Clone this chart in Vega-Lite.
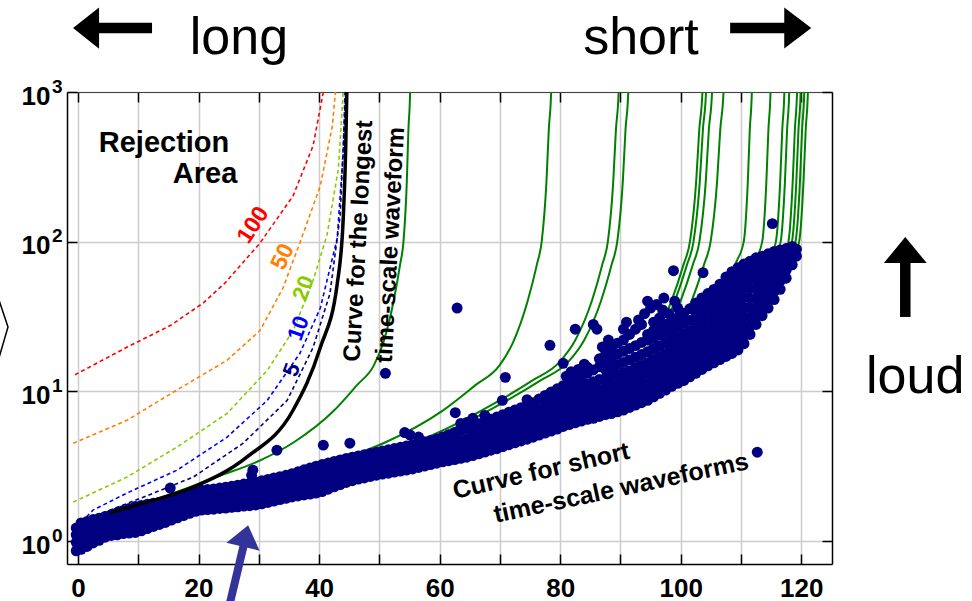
{
  "$schema": "https://vega.github.io/schema/vega-lite/v6.json",
  "width": 765,
  "height": 472,
  "autosize": {"type": "none"},
  "padding": {"left": 67, "top": 92, "right": 140, "bottom": 37},
  "background": "white",
  "config": {
    "view": {"stroke": null},
    "axis": {"labelFont": "Liberation Sans", "labelFontWeight": "bold", "labelColor": "#000", "labelFontSize": 26, "title": null, "labelFlush": false, "labelOverlap": false}
  },
  "datasets": {
    "gray": [
      {"o": 1, "x": -3, "lo": 1}, {"o": 2, "x": 5.3, "lo": 1}, {"o": 3, "x": 5.3, "lo": 1.54}, {"o": 4, "x": 10.8, "lo": 1.79}, {"o": 5, "x": 19.1, "lo": 2.29}, {"o": 6, "x": 28, "lo": 3.63}, {"o": 7, "x": 35.7, "lo": 7.5}, {"o": 8, "x": 40.2, "lo": 19.6}, {"o": 9, "x": 43, "lo": 52}, {"o": 10, "x": 44, "lo": 142}, {"o": 11, "x": 44.4, "lo": 400}, {"o": 12, "x": 44.6, "lo": 1000}
    ],
    "black": [
      {"x": 5.3, "y": 1.54}, {"x": 10.8, "y": 1.79}, {"x": 19.1, "y": 2.29}, {"x": 28, "y": 3.63}, {"x": 35.7, "y": 7.5}, {"x": 40.2, "y": 19.6}, {"x": 43, "y": 52}, {"x": 44, "y": 142}, {"x": 44.4, "y": 400}, {"x": 44.6, "y": 1000}, {"x": 44.7, "y": 1500}
    ],
    "dashed": [
      {"c": "100", "x": -0.5, "y": 12.9}, {"c": "100", "x": 8.1, "y": 19.7}, {"c": "100", "x": 15.3, "y": 27.5}, {"c": "100", "x": 20.8, "y": 39}, {"c": "100", "x": 24.4, "y": 53}, {"c": "100", "x": 30.2, "y": 98}, {"c": "100", "x": 35.7, "y": 203}, {"c": "100", "x": 39, "y": 437}, {"c": "100", "x": 40.7, "y": 1000}, {"c": "100", "x": 41.1, "y": 1500},
      {"c": "50", "x": -0.8, "y": 4.5}, {"c": "50", "x": 8.1, "y": 6.4}, {"c": "50", "x": 16.4, "y": 10.2}, {"c": "50", "x": 24.7, "y": 16.1}, {"c": "50", "x": 30.2, "y": 25.5}, {"c": "50", "x": 34, "y": 49}, {"c": "50", "x": 36.8, "y": 98}, {"c": "50", "x": 40.2, "y": 236}, {"c": "50", "x": 42.2, "y": 593}, {"c": "50", "x": 42.7, "y": 1000}, {"c": "50", "x": 42.9, "y": 1500},
      {"c": "20", "x": -0.8, "y": 1.82}, {"c": "20", "x": 8.1, "y": 2.67}, {"c": "20", "x": 16.4, "y": 4.24}, {"c": "20", "x": 24.7, "y": 7.1}, {"c": "20", "x": 31.4, "y": 13.8}, {"c": "20", "x": 35.7, "y": 25.5}, {"c": "20", "x": 39, "y": 55}, {"c": "20", "x": 41.3, "y": 110}, {"c": "20", "x": 43.2, "y": 307}, {"c": "20", "x": 44, "y": 1000}, {"c": "20", "x": 44.2, "y": 1500},
      {"c": "10", "x": -0.2, "y": 1.24}, {"c": "10", "x": 2.5, "y": 1.61}, {"c": "10", "x": 8.1, "y": 2.09}, {"c": "10", "x": 16.4, "y": 2.97}, {"c": "10", "x": 24.7, "y": 4.93}, {"c": "10", "x": 31.4, "y": 8.7}, {"c": "10", "x": 36.8, "y": 17.9}, {"c": "10", "x": 40.2, "y": 36}, {"c": "10", "x": 43, "y": 105}, {"c": "10", "x": 44, "y": 392}, {"c": "10", "x": 44.3, "y": 1000}, {"c": "10", "x": 44.4, "y": 1500},
      {"c": "5", "x": 4.1, "y": 1.54}, {"c": "5", "x": 10.8, "y": 1.96}, {"c": "5", "x": 19.1, "y": 2.67}, {"c": "5", "x": 27.4, "y": 4.5}, {"c": "5", "x": 34.7, "y": 8.7}, {"c": "5", "x": 39, "y": 19.6}, {"c": "5", "x": 41.8, "y": 45}, {"c": "5", "x": 43.5, "y": 150}, {"c": "5", "x": 44.4, "y": 1000}, {"c": "5", "x": 44.5, "y": 1500}
    ],
    "green": [
      {"c": "A", "x": 5.51, "y": 1.51}, {"c": "A", "x": 13.78, "y": 1.95}, {"c": "A", "x": 23.14, "y": 2.69}, {"c": "A", "x": 30.31, "y": 3.47}, {"c": "A", "x": 35.82, "y": 4.57}, {"c": "A", "x": 42.43, "y": 7.41}, {"c": "A", "x": 46.28, "y": 11.0}, {"c": "A", "x": 49.04, "y": 14.8}, {"c": "A", "x": 50.69, "y": 21.4}, {"c": "A", "x": 52.35, "y": 39.8}, {"c": "A", "x": 53.45, "y": 70.8}, {"c": "A", "x": 54.0, "y": 100}, {"c": "A", "x": 54.55, "y": 251}, {"c": "A", "x": 54.82, "y": 562}, {"c": "A", "x": 55.1, "y": 1000}, {"c": "A", "x": 55.27, "y": 3162},
      {"c": "C", "x": 7.85, "y": 1.51}, {"c": "C", "x": 19.63, "y": 1.95}, {"c": "C", "x": 32.97, "y": 2.69}, {"c": "C", "x": 43.18, "y": 3.47}, {"c": "C", "x": 51.03, "y": 4.57}, {"c": "C", "x": 60.45, "y": 7.41}, {"c": "C", "x": 65.94, "y": 11.0}, {"c": "C", "x": 69.87, "y": 14.8}, {"c": "C", "x": 72.22, "y": 21.4}, {"c": "C", "x": 74.58, "y": 39.8}, {"c": "C", "x": 76.15, "y": 70.8}, {"c": "C", "x": 76.93, "y": 100}, {"c": "C", "x": 77.72, "y": 251}, {"c": "C", "x": 78.11, "y": 562}, {"c": "C", "x": 78.5, "y": 1000}, {"c": "C", "x": 78.74, "y": 3162},
      {"c": "B1", "x": 8.97, "y": 1.51}, {"c": "B1", "x": 22.43, "y": 1.95}, {"c": "B1", "x": 37.67, "y": 2.75}, {"c": "B1", "x": 49.34, "y": 3.75}, {"c": "B1", "x": 58.31, "y": 5.0}, {"c": "B1", "x": 69.07, "y": 8.3}, {"c": "B1", "x": 75.35, "y": 11.8}, {"c": "B1", "x": 79.83, "y": 15.6}, {"c": "B1", "x": 82.52, "y": 22}, {"c": "B1", "x": 85.22, "y": 39.8}, {"c": "B1", "x": 87.01, "y": 70.8}, {"c": "B1", "x": 87.91, "y": 100}, {"c": "B1", "x": 88.8, "y": 251}, {"c": "B1", "x": 89.25, "y": 562}, {"c": "B1", "x": 89.7, "y": 1000}, {"c": "B1", "x": 89.97, "y": 3162},
      {"c": "B2", "x": 9.13, "y": 1.51}, {"c": "B2", "x": 22.83, "y": 1.95}, {"c": "B2", "x": 38.35, "y": 2.75}, {"c": "B2", "x": 50.22, "y": 3.75}, {"c": "B2", "x": 59.35, "y": 5.0}, {"c": "B2", "x": 70.3, "y": 8.3}, {"c": "B2", "x": 76.69, "y": 11.8}, {"c": "B2", "x": 81.26, "y": 15.6}, {"c": "B2", "x": 84.0, "y": 22}, {"c": "B2", "x": 86.74, "y": 39.8}, {"c": "B2", "x": 88.56, "y": 70.8}, {"c": "B2", "x": 89.47, "y": 100}, {"c": "B2", "x": 90.39, "y": 251}, {"c": "B2", "x": 90.84, "y": 562}, {"c": "B2", "x": 91.3, "y": 1000}, {"c": "B2", "x": 91.57, "y": 3162},
      {"c": "D1", "x": 10.36, "y": 1.51}, {"c": "D1", "x": 25.9, "y": 1.95}, {"c": "D1", "x": 43.51, "y": 2.85}, {"c": "D1", "x": 56.98, "y": 3.8}, {"c": "D1", "x": 67.34, "y": 5.2}, {"c": "D1", "x": 79.77, "y": 8.2}, {"c": "D1", "x": 87.02, "y": 11.5}, {"c": "D1", "x": 92.2, "y": 15.2}, {"c": "D1", "x": 95.31, "y": 21.4}, {"c": "D1", "x": 98.42, "y": 39.8}, {"c": "D1", "x": 100.49, "y": 70.8}, {"c": "D1", "x": 101.53, "y": 100}, {"c": "D1", "x": 102.56, "y": 251}, {"c": "D1", "x": 103.08, "y": 562}, {"c": "D1", "x": 103.6, "y": 1000}, {"c": "D1", "x": 103.91, "y": 3162},
      {"c": "D2", "x": 10.42, "y": 1.51}, {"c": "D2", "x": 26.05, "y": 1.95}, {"c": "D2", "x": 43.76, "y": 2.85}, {"c": "D2", "x": 57.31, "y": 3.8}, {"c": "D2", "x": 67.73, "y": 5.2}, {"c": "D2", "x": 80.23, "y": 8.2}, {"c": "D2", "x": 87.53, "y": 11.5}, {"c": "D2", "x": 92.74, "y": 15.2}, {"c": "D2", "x": 95.86, "y": 21.4}, {"c": "D2", "x": 98.99, "y": 39.8}, {"c": "D2", "x": 101.07, "y": 70.8}, {"c": "D2", "x": 102.12, "y": 100}, {"c": "D2", "x": 103.16, "y": 251}, {"c": "D2", "x": 103.68, "y": 562}, {"c": "D2", "x": 104.2, "y": 1000}, {"c": "D2", "x": 104.51, "y": 3162},
      {"c": "D3", "x": 10.52, "y": 1.51}, {"c": "D3", "x": 26.3, "y": 1.95}, {"c": "D3", "x": 44.18, "y": 2.85}, {"c": "D3", "x": 57.86, "y": 3.8}, {"c": "D3", "x": 68.38, "y": 5.2}, {"c": "D3", "x": 81.0, "y": 8.2}, {"c": "D3", "x": 88.37, "y": 11.5}, {"c": "D3", "x": 93.63, "y": 15.2}, {"c": "D3", "x": 96.78, "y": 21.4}, {"c": "D3", "x": 99.94, "y": 39.8}, {"c": "D3", "x": 102.04, "y": 70.8}, {"c": "D3", "x": 103.1, "y": 100}, {"c": "D3", "x": 104.15, "y": 251}, {"c": "D3", "x": 104.67, "y": 562}, {"c": "D3", "x": 105.2, "y": 1000}, {"c": "D3", "x": 105.52, "y": 3162},
      {"c": "D4", "x": 10.71, "y": 1.51}, {"c": "D4", "x": 26.78, "y": 1.95}, {"c": "D4", "x": 44.98, "y": 2.85}, {"c": "D4", "x": 58.91, "y": 3.8}, {"c": "D4", "x": 69.62, "y": 5.3}, {"c": "D4", "x": 82.47, "y": 8.6}, {"c": "D4", "x": 89.96, "y": 12.5}, {"c": "D4", "x": 95.32, "y": 17}, {"c": "D4", "x": 98.53, "y": 23}, {"c": "D4", "x": 101.75, "y": 39.8}, {"c": "D4", "x": 103.89, "y": 70.8}, {"c": "D4", "x": 104.96, "y": 100}, {"c": "D4", "x": 106.03, "y": 251}, {"c": "D4", "x": 106.56, "y": 562}, {"c": "D4", "x": 107.1, "y": 1000}, {"c": "D4", "x": 107.42, "y": 3162},
      {"c": "E1", "x": 11.18, "y": 1.45}, {"c": "E1", "x": 27.95, "y": 2.05}, {"c": "E1", "x": 46.96, "y": 3.2}, {"c": "E1", "x": 61.49, "y": 4.8}, {"c": "E1", "x": 72.67, "y": 7.0}, {"c": "E1", "x": 86.09, "y": 12}, {"c": "E1", "x": 93.91, "y": 18}, {"c": "E1", "x": 99.5, "y": 26}, {"c": "E1", "x": 102.86, "y": 35}, {"c": "E1", "x": 106.77, "y": 50}, {"c": "E1", "x": 109.34, "y": 75}, {"c": "E1", "x": 110.46, "y": 100}, {"c": "E1", "x": 111.13, "y": 251}, {"c": "E1", "x": 111.46, "y": 562}, {"c": "E1", "x": 111.8, "y": 1000}, {"c": "E1", "x": 112.02, "y": 3162},
      {"c": "E2", "x": 11.49, "y": 1.45}, {"c": "E2", "x": 28.73, "y": 2.05}, {"c": "E2", "x": 48.26, "y": 3.2}, {"c": "E2", "x": 63.2, "y": 4.8}, {"c": "E2", "x": 74.69, "y": 7.0}, {"c": "E2", "x": 88.47, "y": 12}, {"c": "E2", "x": 96.52, "y": 18}, {"c": "E2", "x": 102.26, "y": 26}, {"c": "E2", "x": 105.71, "y": 35}, {"c": "E2", "x": 109.73, "y": 50}, {"c": "E2", "x": 112.37, "y": 75}, {"c": "E2", "x": 113.52, "y": 100}, {"c": "E2", "x": 114.21, "y": 251}, {"c": "E2", "x": 114.55, "y": 562}, {"c": "E2", "x": 114.9, "y": 1000}, {"c": "E2", "x": 115.13, "y": 3162},
      {"c": "E3", "x": 11.72, "y": 1.45}, {"c": "E3", "x": 29.3, "y": 2.05}, {"c": "E3", "x": 49.22, "y": 3.2}, {"c": "E3", "x": 64.46, "y": 4.8}, {"c": "E3", "x": 76.18, "y": 7.0}, {"c": "E3", "x": 90.24, "y": 12}, {"c": "E3", "x": 98.45, "y": 18}, {"c": "E3", "x": 104.31, "y": 26}, {"c": "E3", "x": 107.82, "y": 35}, {"c": "E3", "x": 111.93, "y": 50}, {"c": "E3", "x": 114.62, "y": 75}, {"c": "E3", "x": 115.79, "y": 100}, {"c": "E3", "x": 116.5, "y": 251}, {"c": "E3", "x": 116.85, "y": 562}, {"c": "E3", "x": 117.2, "y": 1000}, {"c": "E3", "x": 117.43, "y": 3162},
      {"c": "E4", "x": 11.8, "y": 1.45}, {"c": "E4", "x": 29.5, "y": 2.05}, {"c": "E4", "x": 49.56, "y": 3.2}, {"c": "E4", "x": 64.9, "y": 4.8}, {"c": "E4", "x": 76.7, "y": 7.0}, {"c": "E4", "x": 90.86, "y": 12}, {"c": "E4", "x": 99.12, "y": 18}, {"c": "E4", "x": 105.02, "y": 26}, {"c": "E4", "x": 108.56, "y": 35}, {"c": "E4", "x": 112.69, "y": 50}, {"c": "E4", "x": 115.4, "y": 75}, {"c": "E4", "x": 116.58, "y": 100}, {"c": "E4", "x": 117.29, "y": 251}, {"c": "E4", "x": 117.65, "y": 562}, {"c": "E4", "x": 118.0, "y": 1000}, {"c": "E4", "x": 118.24, "y": 3162},
      {"c": "E5", "x": 11.93, "y": 1.45}, {"c": "E5", "x": 29.83, "y": 2.05}, {"c": "E5", "x": 50.11, "y": 3.2}, {"c": "E5", "x": 65.62, "y": 4.8}, {"c": "E5", "x": 77.55, "y": 7.0}, {"c": "E5", "x": 91.86, "y": 12}, {"c": "E5", "x": 100.21, "y": 18}, {"c": "E5", "x": 106.18, "y": 26}, {"c": "E5", "x": 109.76, "y": 35}, {"c": "E5", "x": 113.93, "y": 50}, {"c": "E5", "x": 116.68, "y": 75}, {"c": "E5", "x": 117.87, "y": 100}, {"c": "E5", "x": 118.58, "y": 251}, {"c": "E5", "x": 118.94, "y": 562}, {"c": "E5", "x": 119.3, "y": 1000}, {"c": "E5", "x": 119.54, "y": 3162},
      {"c": "E6", "x": 11.99, "y": 1.45}, {"c": "E6", "x": 29.98, "y": 2.05}, {"c": "E6", "x": 50.36, "y": 3.2}, {"c": "E6", "x": 65.95, "y": 4.8}, {"c": "E6", "x": 77.94, "y": 7.0}, {"c": "E6", "x": 92.32, "y": 12}, {"c": "E6", "x": 100.72, "y": 18}, {"c": "E6", "x": 106.71, "y": 26}, {"c": "E6", "x": 110.31, "y": 35}, {"c": "E6", "x": 114.5, "y": 50}, {"c": "E6", "x": 117.26, "y": 75}, {"c": "E6", "x": 118.46, "y": 100}, {"c": "E6", "x": 119.18, "y": 251}, {"c": "E6", "x": 119.54, "y": 562}, {"c": "E6", "x": 119.9, "y": 1000}, {"c": "E6", "x": 120.14, "y": 3162},
      {"c": "E7", "x": 12.05, "y": 1.45}, {"c": "E7", "x": 30.13, "y": 2.05}, {"c": "E7", "x": 50.61, "y": 3.2}, {"c": "E7", "x": 66.28, "y": 4.8}, {"c": "E7", "x": 78.33, "y": 7.0}, {"c": "E7", "x": 92.79, "y": 12}, {"c": "E7", "x": 101.22, "y": 18}, {"c": "E7", "x": 107.25, "y": 26}, {"c": "E7", "x": 110.86, "y": 35}, {"c": "E7", "x": 115.08, "y": 50}, {"c": "E7", "x": 117.85, "y": 75}, {"c": "E7", "x": 119.05, "y": 100}, {"c": "E7", "x": 119.78, "y": 251}, {"c": "E7", "x": 120.14, "y": 562}, {"c": "E7", "x": 120.5, "y": 1000}, {"c": "E7", "x": 120.74, "y": 3162},
      {"c": "E8", "x": 12.11, "y": 1.45}, {"c": "E8", "x": 30.28, "y": 2.05}, {"c": "E8", "x": 50.86, "y": 3.2}, {"c": "E8", "x": 66.61, "y": 4.8}, {"c": "E8", "x": 78.72, "y": 7.0}, {"c": "E8", "x": 93.25, "y": 12}, {"c": "E8", "x": 101.72, "y": 18}, {"c": "E8", "x": 107.78, "y": 26}, {"c": "E8", "x": 111.41, "y": 35}, {"c": "E8", "x": 115.65, "y": 50}, {"c": "E8", "x": 118.44, "y": 75}, {"c": "E8", "x": 119.65, "y": 100}, {"c": "E8", "x": 120.37, "y": 251}, {"c": "E8", "x": 120.74, "y": 562}, {"c": "E8", "x": 121.1, "y": 1000}, {"c": "E8", "x": 121.34, "y": 3162}
    ],
    "scatter": [
      {"x":-0.3,"y":0.86},{"x":-0.3,"y":0.98},{"x":-0.3,"y":1.1},{"x":-0.3,"y":1.22},
      {"x":0.5,"y":0.88},{"x":0.5,"y":1.02},{"x":0.5,"y":1.17},{"x":0.5,"y":1.32},
      {"x":1.5,"y":0.92},{"x":1.5,"y":1.05},{"x":1.5,"y":1.2},{"x":1.5,"y":1.35},
      {"x":2.5,"y":0.97},{"x":2.5,"y":1.1},{"x":2.5,"y":1.24},{"x":2.5,"y":1.39},
      {"x":3.5,"y":1.01},{"x":3.5,"y":1.14},{"x":3.5,"y":1.28},{"x":3.5,"y":1.42},
      {"x":4.5,"y":1.06},{"x":4.5,"y":1.19},{"x":4.5,"y":1.32},{"x":4.5,"y":1.46},
      {"x":5.5,"y":1.09},{"x":5.5,"y":1.22},{"x":5.5,"y":1.36},{"x":5.5,"y":1.5},
      {"x":6.5,"y":1.1},{"x":6.5,"y":1.24},{"x":6.5,"y":1.4},{"x":6.5,"y":1.55},
      {"x":7.5,"y":1.12},{"x":7.5,"y":1.27},{"x":7.5,"y":1.43},{"x":7.5,"y":1.6},
      {"x":8.5,"y":1.13},{"x":8.5,"y":1.29},{"x":8.5,"y":1.46},{"x":8.5,"y":1.65},
      {"x":9.5,"y":1.14},{"x":9.5,"y":1.31},{"x":9.5,"y":1.5},{"x":9.5,"y":1.7},
      {"x":10.5,"y":1.17},{"x":10.5,"y":1.34},{"x":10.5,"y":1.53},{"x":10.5,"y":1.73},
      {"x":11.5,"y":1.21},{"x":11.5,"y":1.38},{"x":11.5,"y":1.56},{"x":11.5,"y":1.76},
      {"x":12.5,"y":1.25},{"x":12.5,"y":1.42},{"x":12.5,"y":1.6},{"x":12.5,"y":1.79},
      {"x":13.5,"y":1.29},{"x":13.5,"y":1.45},{"x":13.5,"y":1.63},{"x":13.5,"y":1.81},
      {"x":14.5,"y":1.33},{"x":14.5,"y":1.49},{"x":14.5,"y":1.66},{"x":14.5,"y":1.84},
      {"x":15.5,"y":1.38},{"x":15.5,"y":1.54},{"x":15.5,"y":1.7},{"x":15.5,"y":1.88},{"x":15.3,"y":2.26},
      {"x":16.5,"y":1.43},{"x":16.5,"y":1.59},{"x":16.5,"y":1.76},{"x":16.5,"y":1.94},
      {"x":17.5,"y":1.48},{"x":17.5,"y":1.64},{"x":17.5,"y":1.82},{"x":17.5,"y":2.01},
      {"x":18.5,"y":1.53},{"x":18.5,"y":1.7},{"x":18.5,"y":1.88},{"x":18.5,"y":2.07},
      {"x":19.5,"y":1.58},{"x":19.5,"y":1.75},{"x":19.5,"y":1.94},{"x":19.5,"y":2.14},
      {"x":20.5,"y":1.61},{"x":20.5,"y":1.78},{"x":20.5,"y":1.97},{"x":20.5,"y":2.18},
      {"x":21.5,"y":1.62},{"x":21.5,"y":1.8},{"x":21.5,"y":2.0},{"x":21.5,"y":2.21},
      {"x":22.5,"y":1.63},{"x":22.5,"y":1.82},{"x":22.5,"y":2.02},{"x":22.5,"y":2.23},
      {"x":23.5,"y":1.65},{"x":23.5,"y":1.84},{"x":23.5,"y":2.05},{"x":23.5,"y":2.26},
      {"x":24.5,"y":1.66},{"x":24.5,"y":1.86},{"x":24.5,"y":2.07},{"x":24.5,"y":2.29},
      {"x":25.5,"y":1.68},{"x":25.5,"y":1.88},{"x":25.5,"y":2.09},{"x":25.5,"y":2.32},
      {"x":26.5,"y":1.69},{"x":26.5,"y":1.9},{"x":26.5,"y":2.12},{"x":26.5,"y":2.36},
      {"x":27.5,"y":1.71},{"x":27.5,"y":1.92},{"x":27.5,"y":2.15},{"x":27.5,"y":2.4},
      {"x":28.5,"y":1.72},{"x":28.5,"y":1.94},{"x":28.5,"y":2.18},{"x":28.5,"y":2.44},{"x":28.8,"y":2.75},{"x":29,"y":2.97},
      {"x":29.5,"y":1.74},{"x":29.5,"y":1.97},{"x":29.5,"y":2.21},{"x":29.5,"y":2.48},
      {"x":30.5,"y":1.77},{"x":30.5,"y":2.0},{"x":30.5,"y":2.25},{"x":30.5,"y":2.53},
      {"x":31.5,"y":1.81},{"x":31.5,"y":2.05},{"x":31.5,"y":2.3},{"x":31.5,"y":2.58},
      {"x":32.5,"y":1.85},{"x":32.5,"y":2.1},{"x":32.5,"y":2.36},{"x":32.5,"y":2.64},{"x":33,"y":4.04},
      {"x":33.5,"y":1.89},{"x":33.5,"y":2.14},{"x":33.5,"y":2.41},{"x":33.5,"y":2.69},
      {"x":34.5,"y":1.93},{"x":34.5,"y":2.18},{"x":34.5,"y":2.46},{"x":34.5,"y":2.75},
      {"x":35.5,"y":1.97},{"x":35.5,"y":2.23},{"x":35.5,"y":2.52},{"x":35.5,"y":2.82},
      {"x":36.5,"y":2.0},{"x":36.5,"y":2.28},{"x":36.5,"y":2.58},{"x":36.5,"y":2.9},
      {"x":37.5,"y":2.03},{"x":37.5,"y":2.33},{"x":37.5,"y":2.65},{"x":37.5,"y":2.99},
      {"x":38.5,"y":2.06},{"x":38.5,"y":2.37},{"x":38.5,"y":2.71},{"x":38.5,"y":3.07},
      {"x":39.5,"y":2.09},{"x":39.5,"y":2.42},{"x":39.5,"y":2.78},{"x":39.5,"y":3.16},
      {"x":40.5,"y":2.14},{"x":40.5,"y":2.47},{"x":40.5,"y":2.84},{"x":40.5,"y":3.24},{"x":40.7,"y":4.37},
      {"x":41.5,"y":2.22},{"x":41.5,"y":2.56},{"x":41.5,"y":2.92},{"x":41.5,"y":3.32},
      {"x":42.5,"y":2.3},{"x":42.5,"y":2.64},{"x":42.5,"y":3.0},{"x":42.5,"y":3.4},
      {"x":43.5,"y":2.38},{"x":43.5,"y":2.72},{"x":43.5,"y":3.08},{"x":43.5,"y":3.48},
      {"x":44.5,"y":2.46},{"x":44.5,"y":2.8},{"x":44.5,"y":3.16},{"x":44.5,"y":3.56},{"x":45.1,"y":4.5},
      {"x":45.5,"y":2.53},{"x":45.5,"y":2.87},{"x":45.5,"y":3.23},{"x":45.5,"y":3.63},
      {"x":46.5,"y":2.59},{"x":46.5,"y":2.94},{"x":46.5,"y":3.3},{"x":46.5,"y":3.7},
      {"x":47.5,"y":2.64},{"x":47.5,"y":3.0},{"x":47.5,"y":3.37},{"x":47.5,"y":3.77},
      {"x":48.5,"y":2.7},{"x":48.5,"y":3.06},{"x":48.5,"y":3.44},{"x":48.5,"y":3.84},
      {"x":49.5,"y":2.75},{"x":49.5,"y":3.12},{"x":49.5,"y":3.51},{"x":49.5,"y":3.92},
      {"x":50.5,"y":2.8},{"x":50.5,"y":3.17},{"x":50.5,"y":3.57},{"x":50.5,"y":3.99},{"x":51,"y":13.2},
      {"x":51.5,"y":2.84},{"x":51.5,"y":3.22},{"x":51.5,"y":3.63},{"x":51.5,"y":4.07},
      {"x":52.5,"y":2.89},{"x":52.5,"y":3.28},{"x":52.5,"y":3.7},{"x":52.5,"y":4.15},
      {"x":53.5,"y":2.93},{"x":53.5,"y":3.33},{"x":53.5,"y":3.76},{"x":53.5,"y":4.23},
      {"x":54.5,"y":2.98},{"x":54.5,"y":3.39},{"x":54.5,"y":3.83},{"x":54.5,"y":4.31},{"x":54.2,"y":5.3},
      {"x":55.5,"y":3.03},{"x":55.5,"y":3.45},{"x":55.5,"y":3.9},{"x":55.5,"y":4.4},{"x":55.1,"y":5.1},
      {"x":56.5,"y":3.1},{"x":56.5,"y":3.53},{"x":56.5,"y":3.99},{"x":56.5,"y":4.5},{"x":56.5,"y":4.95},
      {"x":57.5,"y":3.17},{"x":57.5,"y":3.61},{"x":57.5,"y":4.08},{"x":57.5,"y":4.6},
      {"x":58.5,"y":3.24},{"x":58.5,"y":3.69},{"x":58.5,"y":4.17},{"x":58.5,"y":4.7},
      {"x":59.5,"y":3.31},{"x":59.5,"y":3.77},{"x":59.5,"y":4.26},{"x":59.5,"y":4.8},
      {"x":60.5,"y":3.38},{"x":60.5,"y":3.85},{"x":60.5,"y":4.36},{"x":60.5,"y":4.95},
      {"x":61.5,"y":3.44},{"x":61.5,"y":3.93},{"x":61.5,"y":4.47},{"x":61.5,"y":5.13},
      {"x":62.5,"y":3.5},{"x":62.5,"y":4.0},{"x":62.5,"y":4.58},{"x":62.5,"y":5.31},{"x":62.6,"y":7.2},{"x":62.9,"y":36},
      {"x":63.5,"y":3.57},{"x":63.5,"y":4.09},{"x":63.5,"y":4.69},{"x":63.5,"y":5.49},{"x":63.5,"y":6.1},
      {"x":64.5,"y":3.63},{"x":64.5,"y":4.17},{"x":64.5,"y":4.8},{"x":64.5,"y":5.66},{"x":64.5,"y":6.2},
      {"x":65.5,"y":3.72},{"x":65.5,"y":4.17},{"x":65.5,"y":4.67},{"x":65.5,"y":5.23},{"x":65.5,"y":5.86},{"x":65.5,"y":6.6},
      {"x":66.5,"y":3.82},{"x":66.5,"y":4.28},{"x":66.5,"y":4.8},{"x":66.5,"y":5.4},{"x":66.5,"y":6.08},
      {"x":67.5,"y":3.93},{"x":67.5,"y":4.4},{"x":67.5,"y":4.95},{"x":67.5,"y":5.58},{"x":67.5,"y":6.3},{"x":67.5,"y":6.9},
      {"x":68.5,"y":4.04},{"x":68.5,"y":4.53},{"x":68.5,"y":5.1},{"x":68.5,"y":5.76},{"x":68.5,"y":6.52},
      {"x":69.5,"y":4.14},{"x":69.5,"y":4.65},{"x":69.5,"y":5.24},{"x":69.5,"y":5.94},{"x":69.5,"y":6.74},
      {"x":70.5,"y":4.27},{"x":70.5,"y":4.8},{"x":70.5,"y":5.4},{"x":70.5,"y":6.15},{"x":70.5,"y":6.99},{"x":70.4,"y":8.7},{"x":70.9,"y":12.4},
      {"x":71.5,"y":4.4},{"x":71.5,"y":4.95},{"x":71.5,"y":5.6},{"x":71.5,"y":6.35},{"x":71.5,"y":7.25},
      {"x":72.5,"y":4.53},{"x":72.5,"y":5.1},{"x":72.5,"y":5.78},{"x":72.5,"y":6.58},{"x":72.5,"y":7.52},
      {"x":73.5,"y":4.66},{"x":73.5,"y":5.25},{"x":73.5,"y":5.95},{"x":73.5,"y":6.8},{"x":73.5,"y":7.78},
      {"x":74.5,"y":4.79},{"x":74.5,"y":5.4},{"x":74.5,"y":6.12},{"x":74.5,"y":7.0},{"x":74.5,"y":8.05},{"x":74.5,"y":8.8},
      {"x":75.5,"y":4.94},{"x":75.5,"y":5.58},{"x":75.5,"y":6.35},{"x":75.5,"y":7.3},{"x":75.5,"y":8.4},
      {"x":76.5,"y":5.1},{"x":76.5,"y":5.75},{"x":76.5,"y":6.55},{"x":76.5,"y":7.55},{"x":76.5,"y":8.9},
      {"x":77.5,"y":5.26},{"x":77.5,"y":5.93},{"x":77.5,"y":6.75},{"x":77.5,"y":7.7},{"x":77.5,"y":8.6},{"x":77.5,"y":9.4},
      {"x":78.5,"y":5.43},{"x":78.5,"y":6.1},{"x":78.5,"y":6.95},{"x":78.5,"y":7.9},{"x":78.5,"y":8.9},{"x":78.5,"y":9.9},{"x":78.3,"y":20.3},
      {"x":79.5,"y":5.59},{"x":79.5,"y":6.3},{"x":79.5,"y":7.15},{"x":79.5,"y":8.15},{"x":79.5,"y":9.2},{"x":79.5,"y":10.4},{"x":80.5,"y":15.4},
      {"x":80.5,"y":5.83},{"x":80.5,"y":6.55},{"x":80.5,"y":7.4},{"x":80.5,"y":8.4},{"x":80.5,"y":9.6},{"x":80.5,"y":10.9},{"x":81,"y":12.6},
      {"x":81.5,"y":5.99},{"x":81.5,"y":6.75},{"x":81.5,"y":7.65},{"x":81.5,"y":8.7},{"x":81.5,"y":10.0},{"x":81.5,"y":11.5},{"x":81.8,"y":13.5},
      {"x":82.5,"y":6.16},{"x":82.5,"y":6.95},{"x":82.5,"y":7.9},{"x":82.5,"y":9.0},{"x":82.5,"y":10.4},{"x":82.5,"y":12.0},{"x":82.5,"y":26},
      {"x":83.5,"y":6.33},{"x":83.5,"y":7.15},{"x":83.5,"y":8.15},{"x":83.5,"y":9.3},{"x":83.5,"y":10.8},{"x":83.5,"y":12.6},{"x":83,"y":14},
      {"x":84.5,"y":6.5},{"x":84.5,"y":7.35},{"x":84.5,"y":8.4},{"x":84.5,"y":9.65},{"x":84.5,"y":11.2},{"x":84.5,"y":13.2},{"x":84.5,"y":14.5},{"x":84,"y":15.2},
      {"x":85.5,"y":6.6},{"x":85.5,"y":7.5},{"x":85.5,"y":8.6},{"x":85.5,"y":9.9},{"x":85.5,"y":11.6},{"x":85.5,"y":13.9},{"x":86.1,"y":26},{"x":85.5,"y":28},
      {"x":86.5,"y":6.8},{"x":86.5,"y":7.7},{"x":86.5,"y":8.85},{"x":86.5,"y":10.2},{"x":86.5,"y":12.0},{"x":86.5,"y":14.6},{"x":86.5,"y":16.5},
      {"x":87.5,"y":7.0},{"x":87.5,"y":7.95},{"x":87.5,"y":9.1},{"x":87.5,"y":10.5},{"x":87.5,"y":12.2},{"x":87.5,"y":14.0},{"x":87.5,"y":15.8},{"x":87.5,"y":17.5},{"x":87,"y":19.8},
      {"x":88.5,"y":7.1},{"x":88.5,"y":8.1},{"x":88.5,"y":9.3},{"x":88.5,"y":10.8},{"x":88.5,"y":12.6},{"x":88.5,"y":14.6},{"x":88.5,"y":16.8},{"x":88.5,"y":19.5},{"x":88,"y":22},
      {"x":89.5,"y":7.3},{"x":89.5,"y":8.3},{"x":89.5,"y":9.5},{"x":89.5,"y":11.0},{"x":89.5,"y":12.9},{"x":89.5,"y":15.1},{"x":89.5,"y":17.8},{"x":89.5,"y":21},
      {"x":90.5,"y":7.5},{"x":90.5,"y":8.5},{"x":90.5,"y":9.8},{"x":90.5,"y":11.4},{"x":90.5,"y":13.3},{"x":90.5,"y":15.6},{"x":90.5,"y":18.5},{"x":90.5,"y":22},{"x":90.5,"y":26},{"x":91,"y":29},
      {"x":91.5,"y":7.8},{"x":91.5,"y":8.8},{"x":91.5,"y":10.1},{"x":91.5,"y":11.7},{"x":91.5,"y":13.7},{"x":91.5,"y":16.2},{"x":91.5,"y":19.3},{"x":91.5,"y":24},
      {"x":92.5,"y":8.1},{"x":92.5,"y":9.1},{"x":92.5,"y":10.5},{"x":92.5,"y":12.2},{"x":92.5,"y":14.3},{"x":92.5,"y":16.9},{"x":92.5,"y":20.2},{"x":92.5,"y":26},
      {"x":93.5,"y":8.4},{"x":93.5,"y":9.5},{"x":93.5,"y":10.9},{"x":93.5,"y":12.7},{"x":93.5,"y":14.9},{"x":93.5,"y":17.6},{"x":93.5,"y":21.2},{"x":93.5,"y":28},{"x":93,"y":30},
      {"x":94.5,"y":8.7},{"x":94.5,"y":9.8},{"x":94.5,"y":11.3},{"x":94.5,"y":13.2},{"x":94.5,"y":15.5},{"x":94.5,"y":18.4},{"x":94.5,"y":22},{"x":94.5,"y":24},{"x":94,"y":33},{"x":94.5,"y":40},
      {"x":95.5,"y":9.2},{"x":95.5,"y":10.4},{"x":95.5,"y":11.9},{"x":95.5,"y":13.9},{"x":95.5,"y":16.3},{"x":95.5,"y":19.3},{"x":95.5,"y":22.8},{"x":95.5,"y":25.5},{"x":95.5,"y":29},{"x":95,"y":36},
      {"x":96.5,"y":9.7},{"x":96.5,"y":10.9},{"x":96.5,"y":12.5},{"x":96.5,"y":14.6},{"x":96.5,"y":17.1},{"x":96.5,"y":20.2},{"x":96.5,"y":23.8},{"x":96.5,"y":26.8},{"x":96.5,"y":31},{"x":96,"y":38},
      {"x":97.5,"y":10.2},{"x":97.5,"y":11.5},{"x":97.5,"y":13.2},{"x":97.5,"y":15.3},{"x":97.5,"y":17.9},{"x":97.5,"y":21.1},{"x":97.5,"y":24.8},{"x":97.5,"y":28},{"x":97,"y":35},{"x":97.2,"y":42},
      {"x":98.5,"y":10.8},{"x":98.5,"y":12.1},{"x":98.5,"y":13.9},{"x":98.5,"y":16.1},{"x":98.5,"y":18.8},{"x":98.5,"y":22.1},{"x":98.5,"y":25.9},{"x":98.5,"y":29.5},{"x":98,"y":33},{"x":98.8,"y":64},
      {"x":99.5,"y":11.3},{"x":99.5,"y":12.7},{"x":99.5,"y":14.6},{"x":99.5,"y":16.9},{"x":99.5,"y":19.7},{"x":99.5,"y":23.1},{"x":99.5,"y":27.1},{"x":99.5,"y":31},{"x":99.5,"y":36},{"x":99,"y":40},
      {"x":100.5,"y":11.8},{"x":100.5,"y":13.3},{"x":100.5,"y":15.3},{"x":100.5,"y":17.7},{"x":100.5,"y":20.7},{"x":100.5,"y":24.2},{"x":100.5,"y":28.4},{"x":100.5,"y":33.3},
      {"x":101.5,"y":12.5},{"x":101.5,"y":14.1},{"x":101.5,"y":16.1},{"x":101.5,"y":18.6},{"x":101.5,"y":21.7},{"x":101.5,"y":25.4},{"x":101.5,"y":29.8},{"x":101.5,"y":35.6},
      {"x":102.5,"y":13.2},{"x":102.5,"y":14.9},{"x":102.5,"y":17.0},{"x":102.5,"y":19.6},{"x":102.5,"y":22.8},{"x":102.5,"y":26.7},{"x":102.5,"y":31.3},{"x":102.5,"y":36},{"x":102.5,"y":39},
      {"x":103.5,"y":14.0},{"x":103.5,"y":15.8},{"x":103.5,"y":18.0},{"x":103.5,"y":20.8},{"x":103.5,"y":24.2},{"x":103.5,"y":28.3},{"x":103.5,"y":33.1},{"x":103.5,"y":38},{"x":103.5,"y":42},{"x":103.7,"y":62},
      {"x":104.5,"y":14.8},{"x":104.5,"y":16.7},{"x":104.5,"y":19.0},{"x":104.5,"y":21.9},{"x":104.5,"y":25.5},{"x":104.5,"y":29.8},{"x":104.5,"y":34.9},{"x":104.5,"y":40},{"x":104.5,"y":45},
      {"x":105.5,"y":15.5},{"x":105.5,"y":17.5},{"x":105.5,"y":20.0},{"x":105.5,"y":23.1},{"x":105.5,"y":26.9},{"x":105.5,"y":31.5},{"x":105.5,"y":36.8},{"x":105.5,"y":42.5},{"x":105.5,"y":48},
      {"x":106.5,"y":16.3},{"x":106.5,"y":18.4},{"x":106.5,"y":21.1},{"x":106.5,"y":24.4},{"x":106.5,"y":28.4},{"x":106.5,"y":33.2},{"x":106.5,"y":38.8},{"x":106.5,"y":45},{"x":106.5,"y":52},
      {"x":107.5,"y":17.1},{"x":107.5,"y":19.3},{"x":107.5,"y":22.1},{"x":107.5,"y":25.6},{"x":107.5,"y":29.8},{"x":107.5,"y":34.9},{"x":107.5,"y":40.8},{"x":107.5,"y":47.5},{"x":107.5,"y":55},{"x":107.5,"y":58},
      {"x":108.5,"y":17.9},{"x":108.5,"y":20.3},{"x":108.5,"y":23.3},{"x":108.5,"y":27.0},{"x":108.5,"y":31.5},{"x":108.5,"y":36.8},{"x":108.5,"y":43},{"x":108.5,"y":50},{"x":108.5,"y":57},{"x":108.5,"y":63},
      {"x":109.5,"y":18.9},{"x":109.5,"y":21.4},{"x":109.5,"y":24.6},{"x":109.5,"y":28.6},{"x":109.5,"y":33.3},{"x":109.5,"y":38.9},{"x":109.5,"y":45.4},{"x":109.5,"y":52.6},{"x":109.5,"y":60},{"x":109.5,"y":67},
      {"x":110.5,"y":20.8},{"x":110.5,"y":23.6},{"x":110.5,"y":27.1},{"x":110.5,"y":31.4},{"x":110.5,"y":36.5},{"x":110.5,"y":42.6},{"x":110.5,"y":49.6},{"x":110.5,"y":57.4},{"x":110.5,"y":64},{"x":110.5,"y":71},
      {"x":111.5,"y":24},{"x":111.5,"y":27.2},{"x":111.5,"y":31.2},{"x":111.5,"y":36.1},{"x":111.5,"y":41.9},{"x":111.5,"y":48.7},{"x":111.5,"y":56.5},{"x":111.5,"y":64},{"x":111.5,"y":74},
      {"x":112.5,"y":28},{"x":112.5,"y":31.7},{"x":112.5,"y":36.3},{"x":112.5,"y":42},{"x":112.5,"y":48.5},{"x":112.5,"y":56},{"x":112.5,"y":64.5},{"x":112.5,"y":72},{"x":112.5,"y":78},{"x":112.7,"y":3.92},
      {"x":113.5,"y":32},{"x":113.5,"y":36.3},{"x":113.5,"y":41.5},{"x":113.5,"y":47.8},{"x":113.5,"y":55},{"x":113.5,"y":63},{"x":113.5,"y":71.5},{"x":113.5,"y":80},
      {"x":114.5,"y":36},{"x":114.5,"y":40.8},{"x":114.5,"y":46.6},{"x":114.5,"y":53.4},{"x":114.5,"y":61.2},{"x":114.5,"y":69.8},{"x":114.5,"y":78},{"x":114.5,"y":83},
      {"x":115.5,"y":41},{"x":115.5,"y":46.5},{"x":115.5,"y":53},{"x":115.5,"y":60.7},{"x":115.5,"y":69.3},{"x":115.5,"y":78.5},{"x":115.5,"y":86},{"x":115.2,"y":132},
      {"x":116.5,"y":48},{"x":116.5,"y":54.4},{"x":116.5,"y":62},{"x":116.5,"y":70.5},{"x":116.5,"y":79.5},{"x":116.5,"y":88},
      {"x":117.5,"y":57},{"x":117.5,"y":64.5},{"x":117.5,"y":73},{"x":117.5,"y":82},{"x":117.5,"y":90},
      {"x":118.5,"y":70},{"x":118.5,"y":79},{"x":118.5,"y":88},{"x":118.5,"y":93},
      {"x":119.2,"y":80},{"x":119.2,"y":89}
    ]
  },
  "resolve": {"axis": {"x": "independent", "y": "independent"}},
  "layer": [
    {
      "data": {"name": "gray"},
      "mark": {"type": "area", "color": "#e6e6e6", "clip": true},
      "encoding": {
        "x": {"field": "x", "type": "quantitative",
          "scale": {"domain": [-1.83, 125.1], "nice": false, "zero": false},
          "axis": {"orient": "bottom", "values": [0, 10, 20, 30, 40, 50, 60, 70, 80, 90, 100, 110, 120], "labelExpr": "datum.value % 20 == 0 ? datum.label : ''", "grid": true, "gridColor": "#cccccc", "gridWidth": 1.5, "domainColor": "#000", "domainWidth": 1.5, "tickColor": "#000", "tickWidth": 1.5, "tickSize": -10, "labelPadding": 21}},
        "y": {"field": "lo", "type": "quantitative",
          "scale": {"type": "log", "domain": [0.702, 1000], "nice": false},
          "axis": {"orient": "left", "values": [1, 10, 100, 1000], "labelExpr": "'10'", "grid": true, "gridColor": "#cccccc", "gridWidth": 1.5, "domainColor": "#000", "domainWidth": 1.5, "tickColor": "#000", "tickWidth": 1.5, "tickSize": -10, "labelPadding": 27, "labelOffset": 4, "labelBaseline": "middle"}},
        "y2": {"datum": 1000},
        "order": {"field": "o"}
      }
    },
    {
      "data": {"name": "dashed"},
      "mark": {"type": "line", "strokeWidth": 1.6, "strokeDash": [4, 3], "clip": true},
      "encoding": {
        "x": {"field": "x", "type": "quantitative", "axis": {"orient": "top", "values": [0, 10, 20, 30, 40, 50, 60, 70, 80, 90, 100, 110, 120], "labels": false, "grid": false, "domainColor": "#444", "domainWidth": 1, "tickColor": "#000", "tickWidth": 1.5, "tickSize": -10}},
        "y": {"field": "y", "type": "quantitative", "axis": {"orient": "right", "values": [1, 10, 100, 1000], "labels": false, "grid": false, "domainColor": "#000", "domainWidth": 1.5, "tickColor": "#000", "tickWidth": 1.5, "tickSize": -10}},
        "color": {"field": "c", "type": "nominal", "scale": {"domain": ["100", "50", "20", "10", "5"], "range": ["#ff0000", "#ff8000", "#88cc00", "#0000ff", "#000080"]}, "legend": null}
      }
    },
    {
      "data": {"name": "green"},
      "mark": {"type": "line", "strokeWidth": 2, "color": "#008000", "clip": true, "interpolate": "monotone"},
      "encoding": {
        "x": {"field": "x", "type": "quantitative", "axis": null},
        "y": {"field": "y", "type": "quantitative", "axis": {"orient": "left", "values": [1, 10, 100, 1000], "labelExpr": "datum.value < 5 ? '0' : datum.value < 50 ? '1' : datum.value < 500 ? '2' : '3'", "ticks": false, "domain": false, "grid": false, "labelPadding": 5, "labelOffset": -6, "labelFontSize": 19, "labelBaseline": "middle"}},
        "detail": {"field": "c", "type": "nominal"}
      }
    },
    {
      "data": {"name": "scatter"},
      "mark": {"type": "point", "filled": true, "shape": "circle", "size": 120, "color": "#000080", "opacity": 1},
      "encoding": {
        "x": {"field": "x", "type": "quantitative", "axis": null},
        "y": {"field": "y", "type": "quantitative", "axis": null}
      }
    },
    {
      "data": {"name": "black"},
      "mark": {"type": "line", "strokeWidth": 3.5, "color": "#000000", "clip": true, "interpolate": "monotone"},
      "encoding": {
        "x": {"field": "x", "type": "quantitative", "axis": null},
        "y": {"field": "y", "type": "quantitative", "axis": null}
      }
    },
    {
      "data": {"values": [{"label": "Rejection", "x": 14.27, "y": 399}, {"label": "Area", "x": 21.08, "y": 245}]},
      "mark": {"type": "text", "font": "Liberation Sans", "fontWeight": "bold", "fontSize": 29, "color": "#000", "align": "center", "baseline": "alphabetic"},
      "encoding": {"x": {"field": "x", "type": "quantitative", "axis": null}, "y": {"field": "y", "type": "quantitative", "axis": null}, "text": {"field": "label"}}
    },
    {
      "data": {"values": [{"label": "100", "x": 29.05, "y": 129}]},
      "mark": {"type": "text", "font": "Liberation Sans", "fontWeight": "bold", "fontSize": 23, "color": "#ff0000", "angle": -57, "align": "center", "baseline": "middle"},
      "encoding": {"x": {"field": "x", "type": "quantitative", "axis": null}, "y": {"field": "y", "type": "quantitative", "axis": null}, "text": {"field": "label"}}
    },
    {
      "data": {"values": [{"label": "50", "x": 33.97, "y": 79.3}]},
      "mark": {"type": "text", "font": "Liberation Sans", "fontWeight": "bold", "fontSize": 23, "color": "#ff8000", "angle": -65, "align": "center", "baseline": "middle"},
      "encoding": {"x": {"field": "x", "type": "quantitative", "axis": null}, "y": {"field": "y", "type": "quantitative", "axis": null}, "text": {"field": "label"}}
    },
    {
      "data": {"values": [{"label": "20", "x": 37.4, "y": 49}]},
      "mark": {"type": "text", "font": "Liberation Sans", "fontWeight": "bold", "fontSize": 22, "color": "#88cc00", "angle": -70, "align": "center", "baseline": "middle"},
      "encoding": {"x": {"field": "x", "type": "quantitative", "axis": null}, "y": {"field": "y", "type": "quantitative", "axis": null}, "text": {"field": "label"}}
    },
    {
      "data": {"values": [{"label": "10", "x": 36.57, "y": 26.4}]},
      "mark": {"type": "text", "font": "Liberation Sans", "fontWeight": "bold", "fontSize": 22, "color": "#0000ff", "angle": -70, "align": "center", "baseline": "middle"},
      "encoding": {"x": {"field": "x", "type": "quantitative", "axis": null}, "y": {"field": "y", "type": "quantitative", "axis": null}, "text": {"field": "label"}}
    },
    {
      "data": {"values": [{"label": "5", "x": 35.47, "y": 13.9}]},
      "mark": {"type": "text", "font": "Liberation Sans", "fontWeight": "bold", "fontSize": 22, "color": "#000080", "angle": -70, "align": "center", "baseline": "middle"},
      "encoding": {"x": {"field": "x", "type": "quantitative", "axis": null}, "y": {"field": "y", "type": "quantitative", "axis": null}, "text": {"field": "label"}}
    },
    {
      "data": {"values": [{"label": "Curve for the longest", "x": 46.6, "y": 101}, {"label": "time-scale waveform", "x": 51.9, "y": 94.9}]},
      "mark": {"type": "text", "font": "Liberation Sans", "fontWeight": "bold", "fontSize": 24, "color": "#000", "angle": -87, "align": "center", "baseline": "middle"},
      "encoding": {"x": {"field": "x", "type": "quantitative", "axis": null}, "y": {"field": "y", "type": "quantitative", "axis": null}, "text": {"field": "label"}}
    },
    {
      "data": {"values": [{"label": "Curve for short", "x": 76.85, "y": 2.94}]},
      "mark": {"type": "text", "font": "Liberation Sans", "fontWeight": "bold", "fontSize": 25, "color": "#000", "angle": -13, "align": "center", "baseline": "middle"},
      "encoding": {"x": {"field": "x", "type": "quantitative", "axis": null}, "y": {"field": "y", "type": "quantitative", "axis": null}, "text": {"field": "label"}}
    },
    {
      "data": {"values": [{"label": "time-scale waveforms", "x": 90.1, "y": 2.26}]},
      "mark": {"type": "text", "font": "Liberation Sans", "fontWeight": "bold", "fontSize": 25, "color": "#000", "angle": -12, "align": "center", "baseline": "middle"},
      "encoding": {"x": {"field": "x", "type": "quantitative", "axis": null}, "y": {"field": "y", "type": "quantitative", "axis": null}, "text": {"field": "label"}}
    },
    {
      "data": {"values": [{"label": "long", "x": 26.7, "y": 1791}, {"label": "short", "x": 93.4, "y": 1791}, {"label": "loud", "x": 138.9, "y": 9.75}]},
      "mark": {"type": "text", "font": "Liberation Sans", "fontSize": 52, "color": "#000", "align": "center", "baseline": "alphabetic"},
      "encoding": {"x": {"field": "x", "type": "quantitative", "axis": null}, "y": {"field": "y", "type": "quantitative", "axis": null}, "text": {"field": "label"}}
    },
    {
      "data": {"values": [{"x": 3.2, "x2": 12.28, "y": 2673, "y2": 2673}, {"x": 108.2, "x2": 117.5, "y": 2673, "y2": 2673}, {"x": 137.26, "x2": 137.26, "y": 31.4, "y2": 73}]},
      "mark": {"type": "rule", "strokeWidth": 10.5, "color": "#000", "strokeCap": "butt"},
      "encoding": {"x": {"field": "x", "type": "quantitative", "axis": null}, "x2": {"field": "x2"}, "y": {"field": "y", "type": "quantitative", "axis": null}, "y2": {"field": "y2"}}
    },
    {
      "data": {"values": [{"x": 1.33, "y": 2673}]},
      "mark": {"type": "point", "filled": true, "shape": "M-1,0L1,-1.58L1,1.58Z", "size": 676, "color": "#000", "opacity": 1, "strokeWidth": 0},
      "encoding": {"x": {"field": "x", "type": "quantitative", "axis": null}, "y": {"field": "y", "type": "quantitative", "axis": null}}
    },
    {
      "data": {"values": [{"x": 119.42, "y": 2673}]},
      "mark": {"type": "point", "filled": true, "shape": "M1,0L-1,-1.52L-1,1.52Z", "size": 729, "color": "#000", "opacity": 1, "strokeWidth": 0},
      "encoding": {"x": {"field": "x", "type": "quantitative", "axis": null}, "y": {"field": "y", "type": "quantitative", "axis": null}}
    },
    {
      "data": {"values": [{"x": 137.26, "y": 87.9}]},
      "mark": {"type": "point", "filled": true, "shape": "M0,-1L1.65,1L-1.65,1Z", "size": 676, "color": "#000", "opacity": 1, "strokeWidth": 0},
      "encoding": {"x": {"field": "x", "type": "quantitative", "axis": null}, "y": {"field": "y", "type": "quantitative", "axis": null}}
    },
    {
      "data": {"values": [{"x": 25.1, "y": 0.37, "x2": 27.47, "y2": 0.93}]},
      "mark": {"type": "rule", "strokeWidth": 8, "color": "#333399", "strokeCap": "butt"},
      "encoding": {"x": {"field": "x", "type": "quantitative", "axis": null}, "x2": {"field": "x2"}, "y": {"field": "y", "type": "quantitative", "axis": null}, "y2": {"field": "y2"}}
    },
    {
      "data": {"values": [{"x": 27.8, "y": 1.08}]},
      "mark": {"type": "point", "filled": true, "shape": "M0,-1L1.55,1L-1.55,1Z", "size": 484, "angle": 13.5, "color": "#333399", "opacity": 1, "strokeWidth": 0},
      "encoding": {"x": {"field": "x", "type": "quantitative", "axis": null}, "y": {"field": "y", "type": "quantitative", "axis": null}}
    },
    {
      "data": {"values": [{"o": 1, "x": -13.5, "y": 45.4}, {"o": 2, "x": -11.62, "y": 26.9}, {"o": 3, "x": -13.5, "y": 14.8}]},
      "mark": {"type": "line", "strokeWidth": 1.5, "color": "#000"},
      "encoding": {"x": {"field": "x", "type": "quantitative", "axis": null}, "y": {"field": "y", "type": "quantitative", "axis": null}, "order": {"field": "o"}}
    }
  ]
}
